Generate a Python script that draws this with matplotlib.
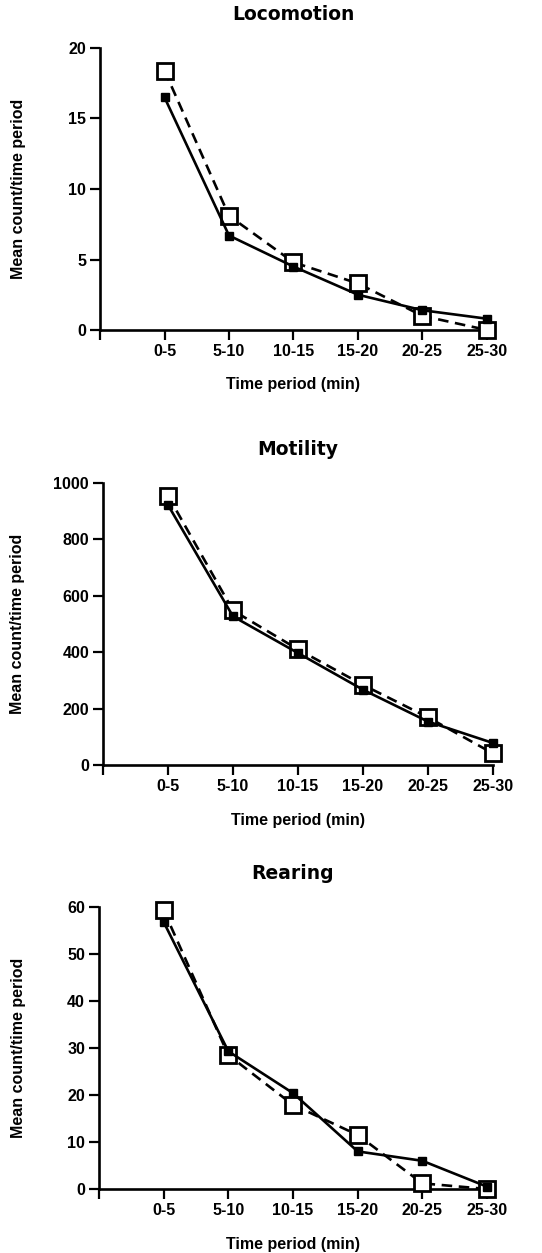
import matplotlib.pyplot as plt

# time periods on the x axis
periods = ['0-5', '5-10', '10-15', '15-20', '20-25', '25-30']

# Locomotion panel
loco_filled = [16.5, 6.7, 4.5, 2.5, 1.4, 0.8]
loco_open = [18.4, 8.1, 4.8, 3.3, 1.0, 0.0]

# Motility panel
moti_filled = [922, 527, 397, 267, 154, 78]
moti_open = [955, 548, 410, 284, 169, 41]

# Rearing panel
rear_filled = [56.8, 29.3, 20.4, 8.0, 6.0, 0.5]
rear_open = [59.3, 28.5, 17.9, 11.5, 1.2, 0.0]

titles = ['Locomotion', 'Motility', 'Rearing']
yticks_list = [[0, 5, 10, 15, 20], [0, 200, 400, 600, 800, 1000],
               [0, 10, 20, 30, 40, 50, 60]]
filled_list = [loco_filled, moti_filled, rear_filled]
open_list = [loco_open, moti_open, rear_open]

W, H = 542, 1253
fig = plt.figure(figsize=(W / 100, H / 100), dpi=100)

# axes boxes in pixels: left, right, top, bottom
boxes = [(100, 487, 48, 330), (103, 493, 483, 765), (99, 487, 907, 1189)]

lab_font = 'Liberation Sans'
x = list(range(1, len(periods) + 1))

for i in range(3):
    l, r, t, b = boxes[i]
    ax = fig.add_axes([l / W, 1 - b / H, (r - l) / W, (b - t) / H])

    ax.plot(x, open_list[i], color='black', lw=1.9, ls=(0, (4, 2.5)),
            marker='s', ms=11, mfc='white', mec='black', mew=2,
            clip_on=False, zorder=3)
    ax.plot(x, filled_list[i], color='black', lw=1.9, ls='-',
            marker='s', ms=5.5, mfc='black', mec='black',
            clip_on=False, zorder=4)

    yt = yticks_list[i]
    ax.set_xlim(0, 6)
    ax.set_ylim(0, yt[-1])
    ax.set_yticks(yt)
    ax.set_xticks([0] + x)
    ax.set_xticklabels([''] + periods)

    for s in ['top', 'right']:
        ax.spines[s].set_visible(False)
    for s in ['left', 'bottom']:
        ax.spines[s].set_linewidth(1.9)

    ax.tick_params(direction='out', length=7, width=1.6, labelsize=11.5, pad=3)
    for lab in ax.get_xticklabels() + ax.get_yticklabels():
        lab.set_fontfamily(lab_font)
        lab.set_fontweight('bold')

    ax.set_title(titles[i], fontfamily='DejaVu Sans', fontweight='bold',
                 fontsize=13.5, pad=20)
    ax.set_xlabel('Time period (min)', fontfamily=lab_font, fontweight='bold',
                  fontsize=11.5)
    ax.set_ylabel('Mean count/time period', fontfamily=lab_font,
                  fontweight='bold', fontsize=11.5)
    ax.xaxis.set_label_coords(0.5, -55 / (b - t))
    ax.yaxis.set_label_coords((18 - l) / (r - l), 0.5)
    ax.xaxis.label.set_va('center')
    ax.yaxis.label.set_va('center')

fig.savefig('out.png', dpi=100)
